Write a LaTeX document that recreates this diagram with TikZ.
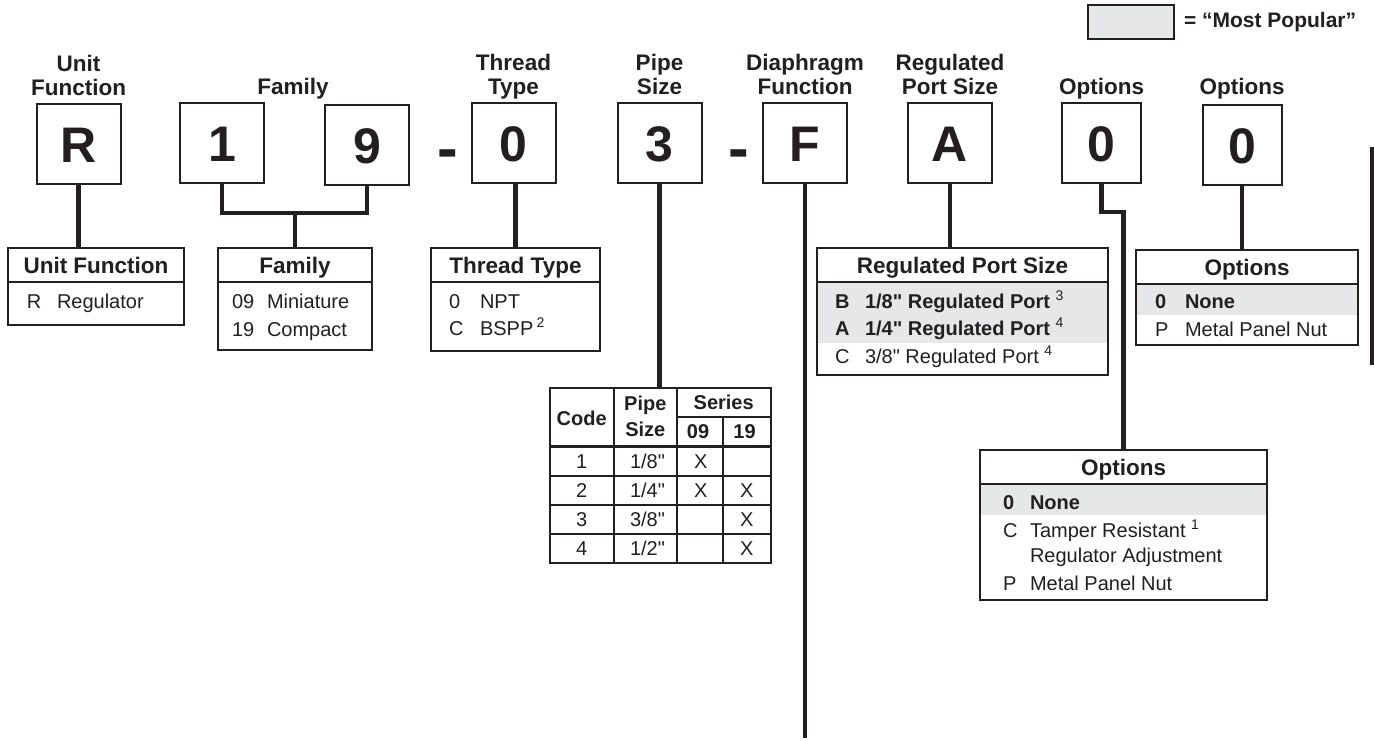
\documentclass[tikz,border=0pt]{standalone}
\usepackage{fontspec}
\setmainfont{Liberation Sans}[Ligatures=TeXOff]
\usetikzlibrary{positioning}
\definecolor{ink}{HTML}{231F20}
\definecolor{popular}{HTML}{E6E7E8}

\begin{document}
\begin{tikzpicture}[x=1pt, y=-1pt, ink,
  every node/.style={inner sep=0pt, outer sep=0pt, text=ink},
  codebox/.style={draw, line width=2pt, minimum width=84pt, minimum height=80pt,
    text height=36pt, text depth=0pt, font=\fontsize{50}{50}\selectfont\bfseries},
  codelabel/.style={align=center, anchor=south, text depth=0pt,
    font=\fontsize{22.5}{23.5}\selectfont\bfseries},
  hyph/.style={anchor=base, font=\fontsize{62}{62}\selectfont\bfseries},
  thead/.style={draw, line width=2.5pt, anchor=north west, minimum height=34pt,
    text height=16pt, text depth=0pt, font=\fontsize{22.5}{24}\selectfont\bfseries},
  tbody/.style={draw, line width=2.5pt, anchor=north west},
  popular row/.style={fill=popular, anchor=north west},
  rowtext/.style={anchor=base west, font=\fontsize{20}{20}\selectfont},
  rowbold/.style={anchor=base west, font=\fontsize{20}{20}\selectfont\bfseries},
  celltext/.style={anchor=base, font=\fontsize{20}{20}\selectfont},
  headcell/.style={anchor=base, font=\fontsize{20}{20}\selectfont\bfseries},
  leader/.style={line width=4.7pt}]

  \useasboundingbox (0,0) rectangle (1374,740);

  % legend
  \node[draw, line width=1.5pt, fill=popular, anchor=north west,
    minimum width=86pt, minimum height=34pt] (key) at (1088,5) {};
  \node[anchor=base west, font=\fontsize{21}{21}\selectfont\bfseries] (keytext)
    at (1184,27) {= “Most Popular”};

  % model code
  \node[codebox] (boxR) at (78.5,144) {R};
  \node[codebox] (boxOne) at (222,143) {1};
  \node[codebox] (boxNine) at (367,145) {9};
  \node[hyph] (dashA) at (447.5,169) {-};
  \node[codebox] (boxThread) at (513.5,143) {0};
  \node[codebox] (boxPipe) at (659.5,143) {3};
  \node[hyph] (dashB) at (738.5,169) {-};
  \node[codebox] (boxDiaph) at (805,143) {F};
  \node[codebox] (boxPort) at (950,143) {A};
  \node[codebox, minimum width=79pt] (boxOptA) at (1101.5,143) {0};
  \node[codebox, minimum width=79pt] (boxOptB) at (1242,145) {0};

  \node[codelabel, above=9pt of boxR] (lblR) {Unit\\Function};
  \node[codelabel] (lblFamily) at (293,94) {Family};
  \node[codelabel, above=9pt of boxThread] (lblThread) {Thread\\Type};
  \node[codelabel, above=9pt of boxPipe] (lblPipe) {Pipe\\Size};
  \node[codelabel, above=9pt of boxDiaph] (lblDiaph) {Diaphragm\\Function};
  \node[codelabel, above=9pt of boxPort] (lblPort) {Regulated\\Port Size};
  \node[codelabel, above=9pt of boxOptA] (lblOptA) {Options};
  \node[codelabel] (lblOptB) at (1242,94) {Options};

  % unit function
  \node[thead, minimum width=176pt] (unit-head) at (8,248) {Unit Function};
  \node[tbody, minimum width=176pt, minimum height=43pt] (unit-body) at (unit-head.south west) {};
  \node[rowtext] at (27,308) {R};
  \node[rowtext] at (57,308) {Regulator};

  % family
  \node[thead, minimum width=154pt] (fam-head) at (218,248) {Family};
  \node[tbody, minimum width=154pt, minimum height=68pt] (fam-body) at (fam-head.south west) {};
  \node[rowtext] at (232,308) {09};
  \node[rowtext] at (267,308) {Miniature};
  \node[rowtext] at (232,336) {19};
  \node[rowtext] at (267,336) {Compact};

  % thread type
  \node[thead, minimum width=169pt] (thread-head) at (431,248) {Thread Type};
  \node[tbody, minimum width=169pt, minimum height=69pt] (thread-body) at (thread-head.south west) {};
  \node[rowtext] at (449,308) {0};
  \node[rowtext] at (480,308) {NPT};
  \node[rowtext] at (449,335) {C};
  \node[rowtext] at (480,335) {BSPP\,\textsuperscript{2}};

  % pipe size
  \node[draw, line width=2.5pt, anchor=north west, minimum width=221pt,
    minimum height=175pt] (size-tab) at (550,388) {};
  \draw[line width=1.6pt] (614,388) -- (614,563) (677,388) -- (677,563)
    (723,417) -- (723,563) (677,417) -- (771,417)
    (550,476) -- (771,476) (550,505) -- (771,505) (550,534) -- (771,534);
  \draw[line width=3pt] (550,446) -- (771,446);
  \node[headcell] at (581.7,425) {Code};
  \node[headcell] at (645.3,410.5) {Pipe};
  \node[headcell] at (645.3,436.5) {Size};
  \node[headcell] at (723.7,409.5) {Series};
  \node[headcell] at (698,438.5) {09};
  \node[headcell] at (744.5,438.5) {19};
  \node[celltext] at (581.7,468) {1};
  \node[celltext] at (647.5,468) {1/8"};
  \node[celltext] at (700.7,468) {X};
  \node[celltext] at (581.7,497) {2};
  \node[celltext] at (647.5,497) {1/4"};
  \node[celltext] at (700.7,497) {X};
  \node[celltext] at (746.7,497) {X};
  \node[celltext] at (581.7,526.5) {3};
  \node[celltext] at (647.5,526.5) {3/8"};
  \node[celltext] at (746.7,526.5) {X};
  \node[celltext] at (581.7,555) {4};
  \node[celltext] at (647.5,555) {1/2"};
  \node[celltext] at (746.7,555) {X};

  % regulated port size
  \node[thead, minimum width=291pt] (port-head) at (817,248) {Regulated Port Size};
  \node[popular row, minimum width=291pt, minimum height=61pt] (port-pop) at (port-head.south west) {};
  \node[tbody, minimum width=291pt, minimum height=93pt] (port-body) at (port-head.south west) {};
  \node[rowbold] at (835,308) {B};
  \node[rowbold] at (865,308) {1/8" Regulated Port \textsuperscript{\mdseries 3}};
  \node[rowbold] at (835,335) {A};
  \node[rowbold] at (865,335) {1/4" Regulated Port \textsuperscript{\mdseries 4}};
  \node[rowtext] at (835,363) {C};
  \node[rowtext] at (865,363) {3/8" Regulated Port \textsuperscript{4}};

  % options, first position
  \node[thead, minimum width=287pt] (optA-head) at (980,450) {Options};
  \node[popular row, minimum width=287pt, minimum height=31pt] (optA-pop) at (optA-head.south west) {};
  \node[tbody, minimum width=287pt, minimum height=116pt] (optA-body) at (optA-head.south west) {};
  \node[rowbold] at (1003,509) {0};
  \node[rowbold] at (1030,509) {None};
  \node[rowtext] at (1003,537) {C};
  \node[rowtext] at (1030,537) {Tamper Resistant \textsuperscript{1}};
  \node[rowtext] at (1030,562) {Regulator Adjustment};
  \node[rowtext] at (1003,590) {P};
  \node[rowtext] at (1030,590) {Metal Panel Nut};

  % options, second position
  \node[thead, minimum width=222pt] (optB-head) at (1136,250) {Options};
  \node[popular row, minimum width=222pt, minimum height=31pt] (optB-pop) at (optB-head.south west) {};
  \node[tbody, minimum width=222pt, minimum height=61pt] (optB-body) at (optB-head.south west) {};
  \node[rowbold] at (1155,308) {0};
  \node[rowbold] at (1185,308) {None};
  \node[rowtext] at (1155,336) {P};
  \node[rowtext] at (1185,336) {Metal Panel Nut};

  % leaders
  \draw[leader] (boxR.south) -- (boxR.south |- unit-head.north);
  \draw[leader] (fam-head.north) -- ++(0,-35) coordinate (famjoin);
  \draw[leader] (boxOne.south) |- (famjoin) -| (boxNine.south);
  \draw[leader] (thread-head.north |- boxThread.south) -- (thread-head.north);
  \draw[leader] (boxPipe.south) -- (boxPipe.south |- size-tab.north);
  \coordinate (diaphend) at (804,738);
  \draw[leader] (boxDiaph.south) -- (boxDiaph.south |- diaphend);
  \draw[leader] (boxPort.south) -- (boxPort.south |- port-head.north);
  \draw[leader] (boxOptA.south) -- ++(0,29) -| (optA-head.north);
  \draw[leader] (boxOptB.south) -- (boxOptB.south |- optB-head.north);

  \fill (1370,147) rectangle (1374,365);
\end{tikzpicture}
\end{document}
